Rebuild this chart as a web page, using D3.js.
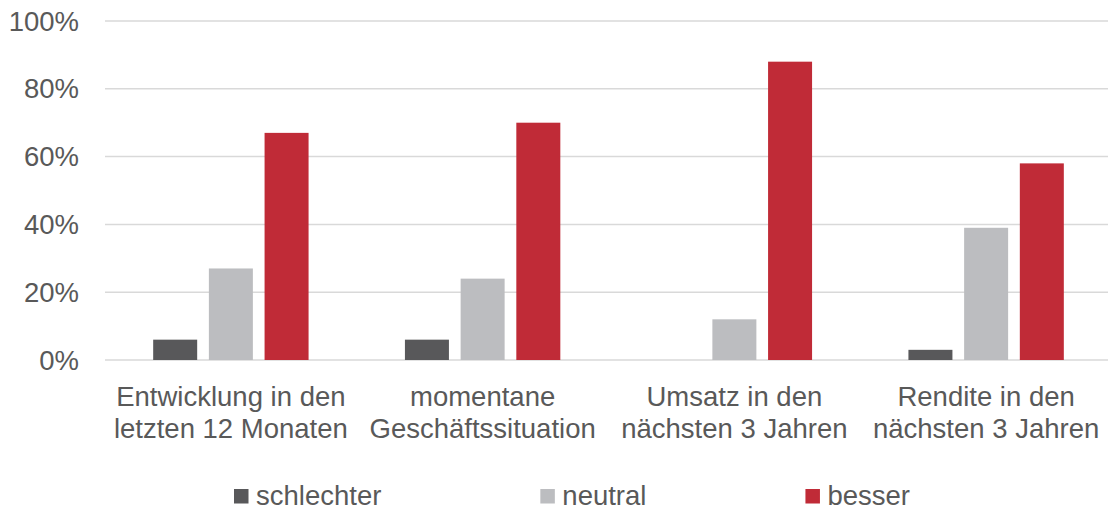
<!DOCTYPE html>
<html>
<head>
<meta charset="utf-8">
<script src="https://cdn.jsdelivr.net/npm/d3@7"></script>
<style>
  body { margin: 0; background: #fff; }
  svg { display: block; font-family: "Liberation Sans", Arial, sans-serif; }
</style>
</head>
<body>
<div id="chart"></div>
<script>
var categories = [
  ["Entwicklung in den", "letzten 12 Monaten"],
  ["momentane", "Geschäftssituation"],
  ["Umsatz in den", "nächsten 3 Jahren"],
  ["Rendite in den", "nächsten 3 Jahren"]
];
var seriesNames = ["schlechter", "neutral", "besser"];
var schlechter = [6, 6, 0, 3];
var neutral = [27, 24, 12, 39];
var besser = [67, 70, 88, 58];
var yTicks = [0, 20, 40, 60, 80, 100];

var colors = ["#58585a", "#bcbdc0", "#c02b37"];
var width = 1108, height = 511;
var plotLeft = 105, plotRight = 1112, plotTop = 21, plotBottom = 360;

var svg = d3.select("#chart").append("svg")
  .attr("width", width)
  .attr("height", height);

var x0 = d3.scaleBand()
  .domain(d3.range(categories.length))
  .range([plotLeft, plotRight])
  .padding(0);

var x1 = d3.scaleBand()
  .domain(seriesNames)
  .range([0, x0.bandwidth()])
  .paddingInner(0.21)
  .paddingOuter(0.865);

var y = d3.scaleLinear().domain([0, 100]).range([plotBottom, plotTop]);

// gridlines
svg.append("g")
  .selectAll("line")
  .data(yTicks)
  .enter()
  .append("line")
  .attr("x1", plotLeft)
  .attr("x2", plotRight)
  .attr("y1", d => y(d))
  .attr("y2", d => y(d))
  .attr("stroke", "#d9d9d9")
  .attr("stroke-width", 1.5);

// y labels
svg.append("g")
  .selectAll("text")
  .data(yTicks)
  .enter()
  .append("text")
  .attr("x", 79)
  .attr("y", d => y(d))
  .attr("dy", "0.35em")
  .attr("text-anchor", "end")
  .style("font-size", "27.5px")
  .attr("fill", "#595959")
  .text(d => d + "%");

var rows = categories.map((c, i) => ({
  index: i,
  values: [schlechter[i], neutral[i], besser[i]]
}));

var groups = svg.append("g")
  .selectAll("g")
  .data(rows)
  .enter()
  .append("g")
  .attr("transform", d => "translate(" + x0(d.index) + ",0)");

groups.selectAll("rect")
  .data(d => d.values.map((v, j) => ({ name: seriesNames[j], value: v, j: j })))
  .enter()
  .append("rect")
  .attr("x", d => x1(d.name))
  .attr("width", x1.bandwidth())
  .attr("y", d => y(d.value))
  .attr("height", d => y(0) - y(d.value))
  .attr("fill", d => colors[d.j]);

// category labels (two lines)
var catLabels = svg.append("g")
  .selectAll("text")
  .data(categories)
  .enter()
  .append("text")
  .attr("text-anchor", "middle")
  .style("font-size", "27.5px")
  .attr("fill", "#595959");

catLabels.selectAll("tspan")
  .data((d, i) => d.map(line => ({ line: line, i: i })))
  .enter()
  .append("tspan")
  .attr("x", d => x0(d.i) + x0.bandwidth() / 2)
  .attr("y", (d, k) => 406 + k * 32)
  .text(d => d.line);

// legend
var legend = svg.append("g");
var lx = 234;
seriesNames.forEach(function (name, i) {
  legend.append("rect")
    .attr("x", lx)
    .attr("y", 489)
    .attr("width", 14.5)
    .attr("height", 14.5)
    .attr("fill", colors[i]);
  var t = legend.append("text")
    .attr("x", lx + 22)
    .attr("y", 505)
    .style("font-size", "27.5px")
    .attr("fill", "#595959")
    .text(name);
  lx = lx + 22 + t.node().getComputedTextLength() + 159;
});
</script>
</body>
</html>
